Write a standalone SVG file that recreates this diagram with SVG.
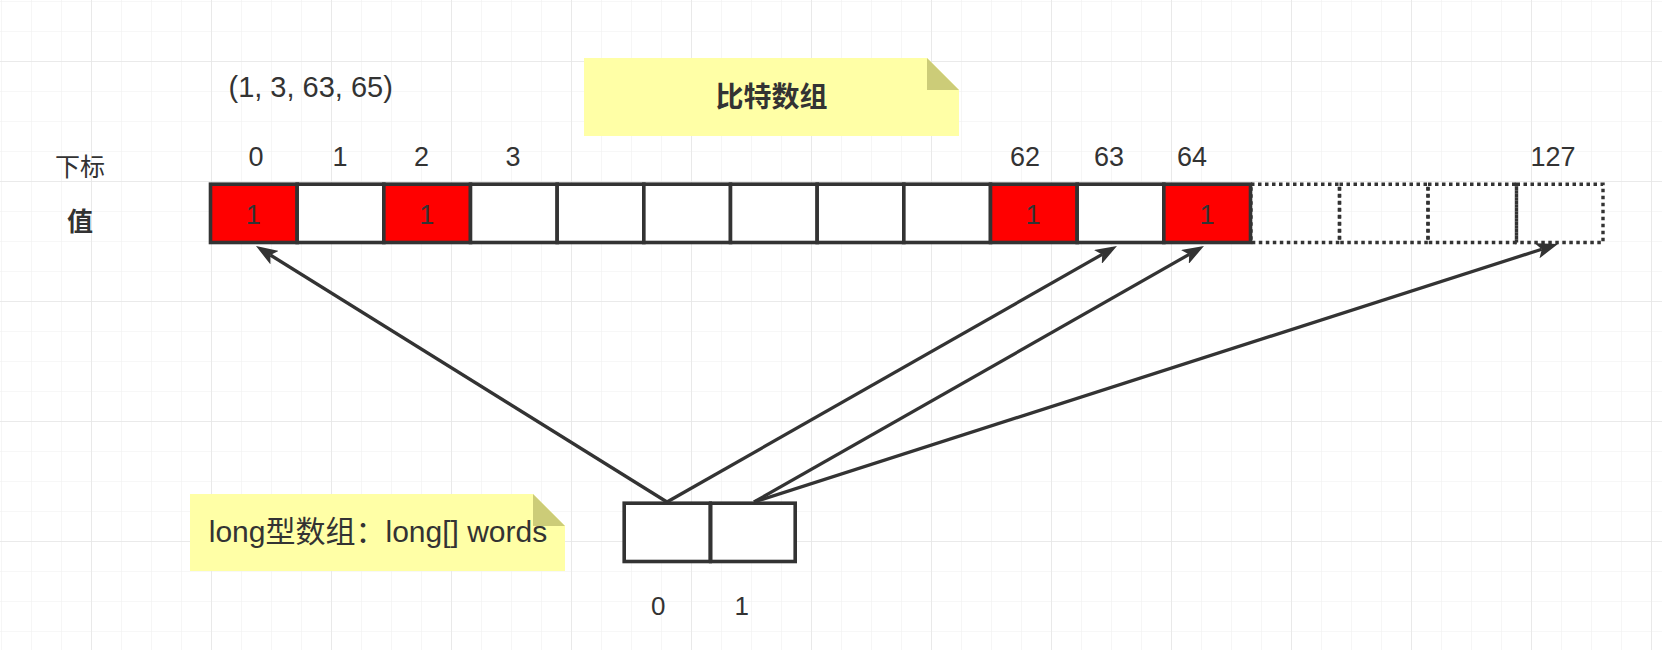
<svg xmlns="http://www.w3.org/2000/svg" width="1662" height="650" viewBox="0 0 1662 650">
<style>
.t{font-family:"Liberation Sans","Noto Sans CJK SC",sans-serif;fill:#333333;}
.lbl{font-size:27px;text-anchor:middle;}
.cell{stroke:#333333;stroke-width:3.6;}
.w{fill:#ffffff;}
.r{fill:#ff0000;}
.dot{fill:none;stroke:#333333;stroke-width:3.4;stroke-dasharray:3.5 3.5;}
.note{fill:#ffffa6;}
.fold{fill:#cccc78;}
.conn{fill:none;stroke:#333333;stroke-width:3.3;}
</style>
<defs>
<pattern id="gMinor" patternUnits="userSpaceOnUse" x="1" y="1" width="30" height="30">
<path d="M30 0H0V30" fill="none" stroke="#f0f0f0" stroke-width="1.2"/>
</pattern>
<pattern id="gMajor" patternUnits="userSpaceOnUse" x="91" y="61" width="120" height="120">
<path d="M120 0H0V120" fill="none" stroke="#e6e6e6" stroke-width="1.6"/>
</pattern>
<marker id="arr" markerUnits="userSpaceOnUse" viewBox="0 0 22 16" markerWidth="22" markerHeight="16" refX="5" refY="8" orient="auto">
<path d="M0,0 L22,8 L0,16 L5,8 Z" fill="#333333"/>
</marker>
</defs>
<rect width="1662" height="650" fill="#ffffff"/>
<rect width="1662" height="650" fill="url(#gMinor)"/>
<rect width="1662" height="650" fill="url(#gMajor)"/>

<g id="note-bitarray">
<path class="note" d="M584 58H927L959 90V136H584Z"/>
<path class="fold" d="M927 58L959 90H927Z"/>
<text class="t" x="771.5" y="106.5" font-size="28" font-weight="bold" text-anchor="middle">比特数组</text>
</g>

<g id="note-words">
<path class="note" d="M190 494H533L565 526V571H190Z"/>
<path class="fold" d="M533 494L565 526H533Z"/>
<text class="t" x="378" y="542" font-size="30" text-anchor="middle">long型数组：long[] words</text>
</g>

<g id="label-set">
<text class="t" x="310.7" y="97" font-size="29" text-anchor="middle">(1, 3, 63, 65)</text>
</g>

<g id="label-index">
<text class="t" x="80" y="175.5" font-size="25" text-anchor="middle">下标</text>
</g>
<g id="label-value">
<text class="t" x="80" y="230.5" font-size="26" font-weight="bold" text-anchor="middle">值</text>
</g>

<g id="bit-array">
<rect class="cell r" x="210.5" y="184.2" width="86.67" height="58.3"/>
<rect class="cell w" x="297.17" y="184.2" width="86.67" height="58.3"/>
<rect class="cell r" x="383.83" y="184.2" width="86.67" height="58.3"/>
<rect class="cell w" x="470.5" y="184.2" width="86.67" height="58.3"/>
<rect class="cell w" x="557.17" y="184.2" width="86.67" height="58.3"/>
<rect class="cell w" x="643.83" y="184.2" width="86.67" height="58.3"/>
<rect class="cell w" x="730.5" y="184.2" width="86.67" height="58.3"/>
<rect class="cell w" x="817.17" y="184.2" width="86.67" height="58.3"/>
<rect class="cell w" x="903.83" y="184.2" width="86.67" height="58.3"/>
<rect class="cell r" x="990.5" y="184.2" width="86.67" height="58.3"/>
<rect class="cell w" x="1077.17" y="184.2" width="86.67" height="58.3"/>
<rect class="cell r" x="1163.83" y="184.2" width="86.67" height="58.3"/>
<rect class="dot" x="1251" y="184.2" width="88.5" height="58.3"/>
<rect class="dot" x="1339.5" y="184.2" width="88.5" height="58.3"/>
<rect class="dot" x="1428" y="184.2" width="88.5" height="58.3"/>
<rect class="dot" x="1516.5" y="184.2" width="86.5" height="58.3"/>
<text class="t lbl" x="253.3" y="223.5">1</text>
<text class="t lbl" x="426.7" y="223.5">1</text>
<text class="t lbl" x="1033" y="223.5">1</text>
<text class="t lbl" x="1207" y="223.5">1</text>
</g>

<g id="bit-index-labels">
<text class="t lbl" x="256" y="165.5">0</text>
<text class="t lbl" x="340" y="165.5">1</text>
<text class="t lbl" x="421.5" y="165.5">2</text>
<text class="t lbl" x="513" y="165.5">3</text>
<text class="t lbl" x="1025" y="165.5">62</text>
<text class="t lbl" x="1109" y="165.5">63</text>
<text class="t lbl" x="1192" y="165.5">64</text>
<text class="t lbl" x="1553" y="165.5">127</text>
</g>

<g id="words-array">
<rect class="cell w" x="624.2" y="503.2" width="86" height="58.3"/>
<rect class="cell w" x="710.7" y="503.2" width="84.5" height="58.3"/>
<text class="t" x="658.3" y="615" font-size="26" text-anchor="middle">0</text>
<text class="t" x="741.7" y="615" font-size="26" text-anchor="middle">1</text>
</g>

<g id="connectors">
<path class="conn" d="M667 502L270.4 255" marker-end="url(#arr)"/>
<path class="conn" d="M667 502L1102.2 254.4" marker-end="url(#arr)"/>
<path class="conn" d="M754 502L1189.2 254.4" marker-end="url(#arr)"/>
<path class="conn" d="M754 502L1541.8 249.2" marker-end="url(#arr)"/>
</g>
</svg>
